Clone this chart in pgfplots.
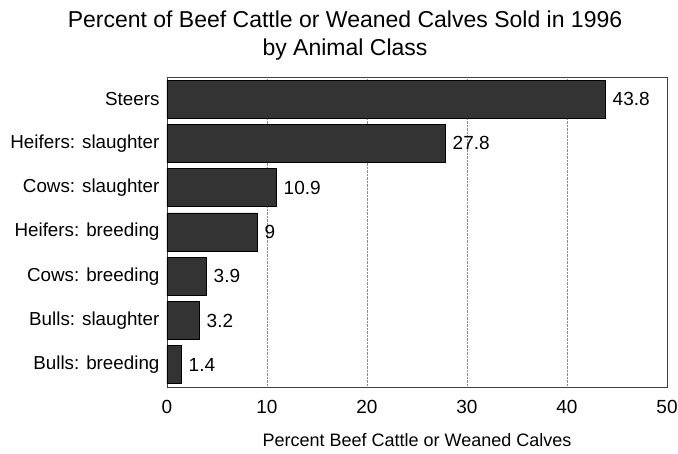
\documentclass[border=0pt]{standalone}
\usepackage{pgfplots}
\pgfplotsset{compat=1.18}
\usepackage{pgfplotstable}
\usepackage{fontspec}
\setmainfont{Liberation Sans}
\pgfplotstableread{
y val label
0 1.4 1.4
1 3.2 3.2
2 3.9 3.9
3 9.0 9
4 10.9 10.9
5 27.8 27.8
6 43.8 43.8
}\datatable
\begin{document}
\begin{tikzpicture}[x=1pt,y=1pt]
\path[use as bounding box] (0,0) rectangle (678,454);
\begin{axis}[
  at={(167pt,67pt)}, anchor=south west,
  width=500pt, height=310pt, scale only axis,
  xbar, bar width=38pt,
  xmin=0, xmax=50, ymin=-0.5, ymax=6.5,
  xtick={0,10,20,30,40,50},
  ytick={0,1,2,3,4,5,6},
  yticklabels={Bulls: breeding,Bulls: slaughter,Cows: breeding,Heifers: breeding,Cows: slaughter,Heifers: slaughter,Steers},
  major tick length=0pt,
  xmajorgrids, grid style={densely dotted, black!45},
  axis line style={black!75, line width=0.9pt},
  /pgf/number format/assume math mode=true,
  xticklabel style={font=\fontsize{19}{22}\selectfont, yshift=-10pt},
  yticklabel style={font=\fontsize{18.8}{22}\selectfont, xshift=-4pt},
  nodes near coords,
  point meta=explicit symbolic,
  every node near coord/.append style={font=\fontsize{19}{22}\selectfont, anchor=west, xshift=4pt},
]
\addplot[fill=black!80, draw=black, line width=0.8pt] table[x=val, y=y, meta=label] {\datatable};
\end{axis}
\node[font=\fontsize{23}{28}\selectfont, align=center] at (345,418) {Percent of Beef Cattle or Weaned Calves Sold in 1996\\by Animal Class};
\node[font=\fontsize{18}{21}\selectfont] at (417,14) {Percent Beef Cattle or Weaned Calves};
\end{tikzpicture}
\end{document}
